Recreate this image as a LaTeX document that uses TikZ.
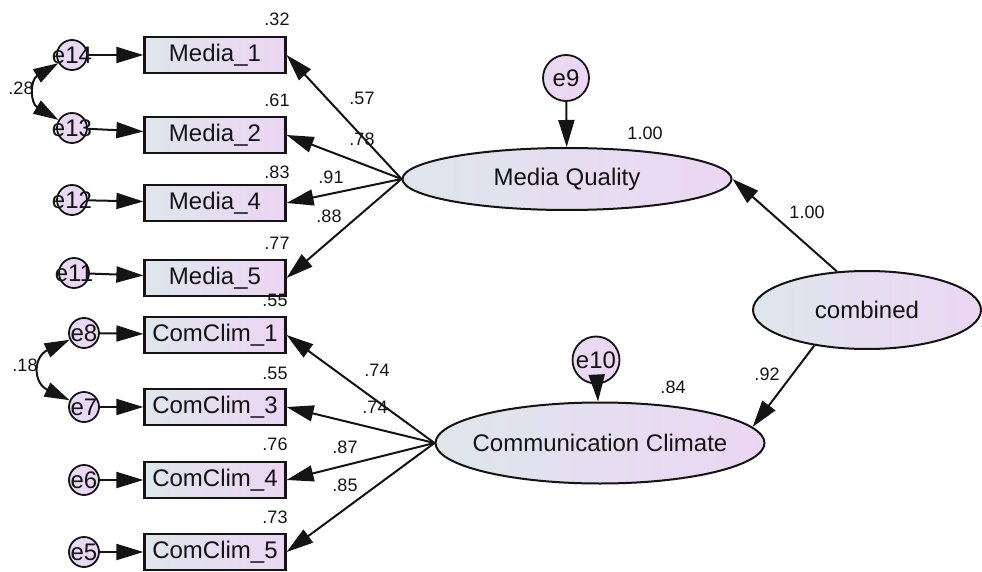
\documentclass[tikz,border=0pt]{standalone}
\usepackage{fontspec}
\setmainfont{Liberation Sans}
\usetikzlibrary{arrows.meta,shapes.geometric}
\definecolor{fillL}{RGB}{222,230,236}
\definecolor{fillR}{RGB}{236,214,244}
\definecolor{ink}{RGB}{20,20,20}

\begin{document}
\begin{tikzpicture}[x=1pt,y=-1pt,
  obs/.style={draw=ink, line width=2.2pt, minimum width=141pt, minimum height=36pt, inner sep=0pt, left color=fillL, right color=fillR, text=ink, font=\fontsize{24}{26}\selectfont},
  err/.style={circle, draw=ink, line width=1.8pt, minimum size=30pt, inner sep=0pt, left color=fillR!70!fillL, right color=fillR, text=ink, font=\fontsize{24}{26}\selectfont},
  lat/.style={ellipse, draw=ink, line width=2pt, inner sep=0pt, left color=fillL, right color=fillR, text=ink, font=\fontsize{24}{26}\selectfont},
  num/.style={inner sep=0pt, text=ink, font=\fontsize{18}{20}\selectfont},
  load/.style={draw=ink, line width=2pt, -{Triangle[length=27pt,width=16pt]}},
  cov/.style={draw=ink, line width=2pt, {Triangle[length=25pt,width=15pt]}-{Triangle[length=25pt,width=15pt]}}
]
\useasboundingbox (0,0) rectangle (982,572);

% latent variables
\node[lat, minimum width=329pt, minimum height=62pt] (mq) at (567,179) {\makebox[0pt]{Media Quality}};
\node[lat, minimum width=329pt, minimum height=81pt] (cc) at (600,443) {\makebox[0pt]{Communication Climate}};
\node[lat, minimum width=228pt, minimum height=78pt] (comb) at (867,310) {\makebox[0pt]{combined}};

% indicators
\node[obs] (m1) at (215,55) {Media\_1};
\node[obs] (m2) at (215,135) {Media\_2};
\node[obs] (m4) at (215,203) {Media\_4};
\node[obs] (m5) at (215,278) {Media\_5};
\node[obs] (c1) at (215,335) {ComClim\_1};
\node[obs] (c3) at (215,407) {ComClim\_3};
\node[obs] (c4) at (215,480) {ComClim\_4};
\node[obs] (c5) at (215,552) {ComClim\_5};

% errors
\node[err] (e14) at (72,55) {\makebox[0pt]{e14}};
\node[err] (e13) at (72,128) {\makebox[0pt]{e13}};
\node[err] (e12) at (72,200) {\makebox[0pt]{e12}};
\node[err] (e11) at (74,273) {\makebox[0pt]{e11}};
\node[err] (e8) at (84,333) {\makebox[0pt]{e8}};
\node[err] (e7) at (84,407) {\makebox[0pt]{e7}};
\node[err] (e6) at (84,480) {\makebox[0pt]{e6}};
\node[err] (e5) at (84,552) {\makebox[0pt]{e5}};
\node[err, minimum size=46pt] (e9) at (566,78) {\makebox[0pt]{e9}};
\node[err, minimum size=47pt] (e10) at (596,360) {\makebox[0pt]{e10}};

% paths
\draw[load] (e14) -- (m1);
\draw[load] (e13) -- (m2);
\draw[load] (e12) -- (m4);
\draw[load] (e11) -- (m5);
\draw[load] (e8) -- (c1);
\draw[load] (e7) -- (c3);
\draw[load] (e6) -- (c4);
\draw[load] (e5) -- (c5);
\draw[load] (mq.west) -- (m1.east);
\draw[load] (mq.west) -- (m2.east);
\draw[load] (mq.west) -- (m4.east);
\draw[load] (mq.west) -- (m5.east);
\draw[load] (cc.west) -- (c1.east);
\draw[load] (cc.west) -- (c3.east);
\draw[load] (cc.west) -- (c4.east);
\draw[load] (cc.west) -- (c5.east);
\draw[load] (e9) -- (mq);
\draw[load] (e10) -- (cc);
\draw[load] (comb.128) -- (mq.east);
\draw[load] (comb.214) -- (cc.6);
\draw[cov] (e14) .. controls (30,80) and (30,103) .. (e13);
\draw[cov] (e8) .. controls (33,357) and (33,383) .. (e7);

% estimates
\node[num] (r1) at (277,19) {.32};
\node[num] (r2) at (277,100) {.61};
\node[num] (r4) at (277,172) {.83};
\node[num] (r5) at (277,243) {.77};
\node[num] (r6) at (275,300) {.55};
\node[num] (r7) at (275,373) {.55};
\node[num] (r8) at (275,444) {.76};
\node[num] (r9) at (275,517) {.73};
\node[num] (w1) at (362,98) {.57};
\node[num] (w2) at (362,139) {.78};
\node[num] (w3) at (331,177) {.91};
\node[num] (w4) at (329,216) {.88};
\node[num] (w5) at (377,370) {.74};
\node[num] (w6) at (375,407) {.74};
\node[num] (w7) at (345,447) {.87};
\node[num] (w8) at (345,485) {.85};
\node[num] (rmq) at (645,133) {1.00};
\node[num] (rcc) at (673,387) {.84};
\node[num] (wmq) at (807,212) {1.00};
\node[num] (wcc) at (767,374) {.92};
\node[num] (k1) at (21,88) {.28};
\node[num] (k2) at (25,365) {.18};
\end{tikzpicture}
\end{document}
